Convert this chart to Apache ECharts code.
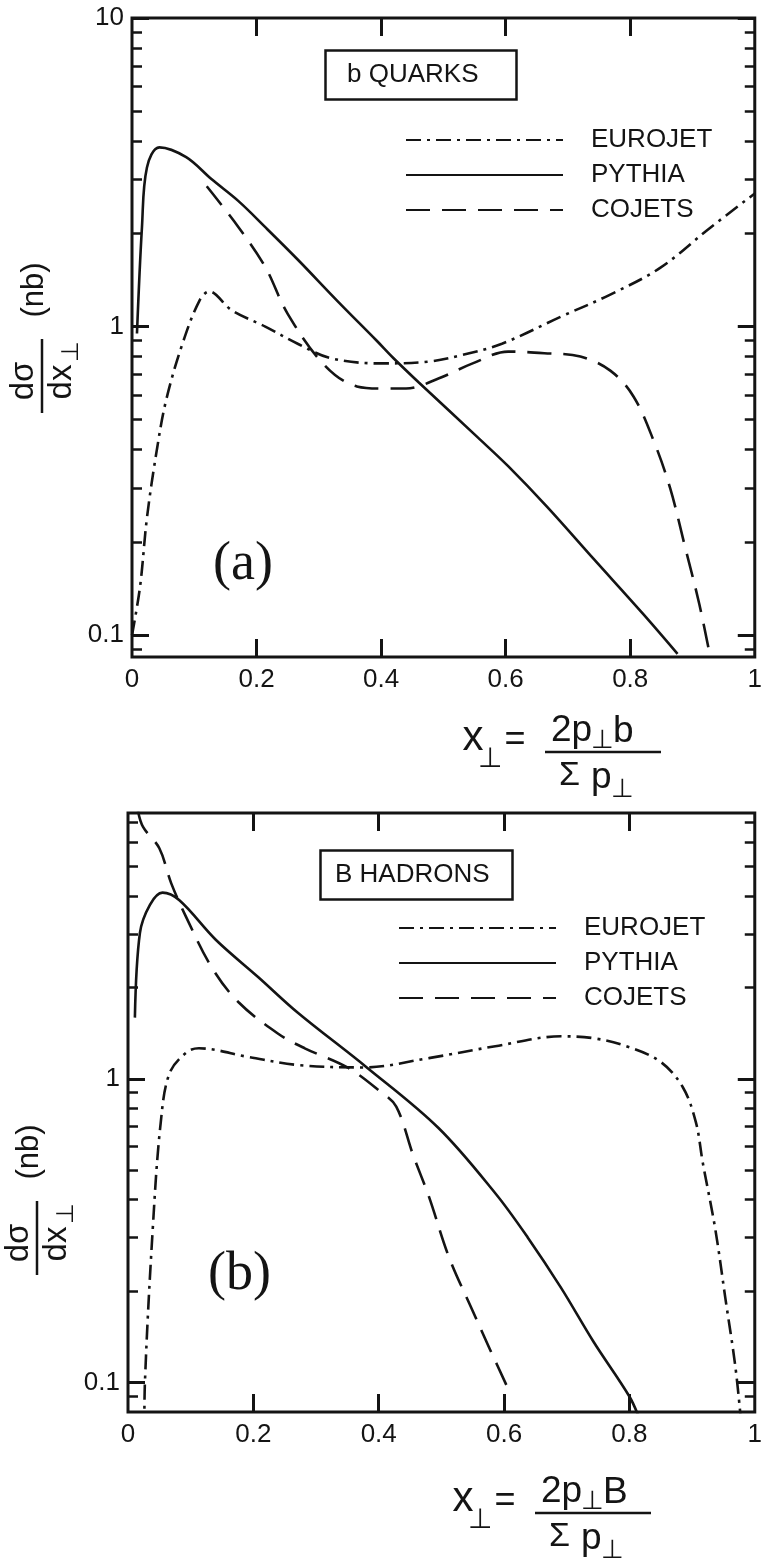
<!DOCTYPE html>
<html>
<head>
<meta charset="utf-8">
<script src="https://cdn.jsdelivr.net/npm/echarts@6/dist/echarts.min.js"></script>
<style>
  html, body { margin: 0; padding: 0; background: #fff; }
  #chart { width: 765px; height: 1563px; }
</style>
</head>
<body>
<div id="chart"></div>
<script>
// axis ticks / labels
const xTickLabels = [0, 0.2, 0.4, 0.6, 0.8, 1];
const xInnerTicks = [0.2, 0.4, 0.6, 0.8];
const yMajorTicks = [0.1, 1, 10];
const yMinorTicks = [0.09, 0.2, 0.3, 0.4, 0.5, 0.6, 0.7, 0.8, 0.9, 2, 3, 4, 5, 6, 7, 8, 9];
const seriesNames = ['EUROJET', 'PYTHIA', 'COJETS'];

// (a) b quarks  [x_perp, dsigma/dx]
const quarkEurojet = [[0.0, 0.1], [0.013, 0.144], [0.024, 0.24], [0.04, 0.40], [0.055, 0.58], [0.081, 0.88],
  [0.108, 1.21], [0.124, 1.30], [0.16, 1.13], [0.214, 1.0], [0.266, 0.88], [0.319, 0.79], [0.398, 0.76],
  [0.477, 0.77], [0.531, 0.81], [0.594, 0.88], [0.69, 1.08], [0.768, 1.27], [0.848, 1.55], [0.927, 2.08], [1.0, 2.7]];
const quarkPythia = [[0.008, 0.95], [0.016, 2.1], [0.024, 3.28], [0.044, 3.81], [0.087, 3.54], [0.128, 3.0],
  [0.171, 2.55], [0.214, 2.1], [0.266, 1.65], [0.33, 1.21], [0.393, 0.9], [0.42, 0.79], [0.461, 0.658],
  [0.556, 0.436], [0.604, 0.353], [0.667, 0.26], [0.742, 0.176], [0.821, 0.117], [0.876, 0.087]];
const quarkCojets = [[0.12, 2.85], [0.171, 2.1], [0.214, 1.56], [0.25, 1.1], [0.309, 0.75], [0.361, 0.64],
  [0.404, 0.63], [0.44, 0.63], [0.493, 0.68], [0.547, 0.76], [0.604, 0.83], [0.662, 0.82], [0.72, 0.8],
  [0.768, 0.72], [0.805, 0.595], [0.837, 0.43], [0.864, 0.30], [0.889, 0.19], [0.911, 0.126], [0.929, 0.084]];

// (b) B hadrons
const hadronEurojet = [[0.026, 0.07], [0.027, 0.1], [0.04, 0.334], [0.052, 0.71], [0.066, 1.04], [0.093, 1.22],
  [0.113, 1.26], [0.192, 1.18], [0.271, 1.11], [0.376, 1.09], [0.48, 1.17], [0.586, 1.28], [0.691, 1.38],
  [0.743, 1.36], [0.795, 1.28], [0.849, 1.14], [0.885, 0.94], [0.906, 0.72], [0.917, 0.53], [0.937, 0.32],
  [0.953, 0.19], [0.969, 0.113], [0.978, 0.075]];
const hadronPythia = [[0.011, 1.59], [0.019, 3.02], [0.035, 3.74], [0.055, 4.1], [0.082, 3.87], [0.14, 2.87],
  [0.208, 2.16], [0.271, 1.65], [0.381, 1.09], [0.495, 0.69], [0.586, 0.42], [0.638, 0.30], [0.691, 0.205],
  [0.743, 0.136], [0.80, 0.09], [0.815, 0.077]];
const hadronCojets = [[0.016, 7.6], [0.024, 6.75], [0.05, 5.74], [0.069, 4.4], [0.093, 3.4], [0.134, 2.32],
  [0.176, 1.79], [0.239, 1.41], [0.282, 1.26], [0.35, 1.09], [0.402, 0.91], [0.428, 0.81], [0.455, 0.56],
  [0.48, 0.41], [0.512, 0.259], [0.55, 0.172], [0.575, 0.132], [0.609, 0.093]];

const ink = '#141414';
const sans = 'Liberation Sans, Arial, Helvetica, sans-serif';
const serif = 'Liberation Serif, Times New Roman, serif';
const dashes = { EUROJET: [15, 6, 3, 6], PYTHIA: 'solid', COJETS: [24, 12] };

const chart = echarts.init(document.getElementById('chart'));

function xAxes(grid) {
  const tick = { inside: true, length: 18, customValues: xInnerTicks, lineStyle: { color: ink, width: 3 } };
  return [
    {
      type: 'value', gridIndex: grid, position: 'bottom', min: 0, max: 1,
      splitLine: { show: false }, axisLine: { show: false }, axisTick: tick,
      axisLabel: {
        customValues: xTickLabels, fontSize: 26, color: ink, fontFamily: sans, margin: 10,
        formatter: v => (v === 0 || v === 1) ? String(v) : v.toFixed(1)
      }
    },
    {
      type: 'value', gridIndex: grid, position: 'top', min: 0, max: 1,
      splitLine: { show: false }, axisLine: { show: false }, axisTick: tick, axisLabel: { show: false }
    }
  ];
}

function yAxes(grid, min, max) {
  const base = { type: 'log', gridIndex: grid, min: min, max: max, splitLine: { show: false },
    axisLine: { show: false }, axisLabel: { show: false } };
  const major = { inside: true, length: 17, customValues: yMajorTicks, lineStyle: { color: ink, width: 3 } };
  const minor = { inside: true, length: 10, customValues: yMinorTicks, lineStyle: { color: ink, width: 2.5 } };
  return [
    Object.assign({}, base, { position: 'left', axisTick: major,
      axisLabel: { customValues: yMajorTicks, fontSize: 26, color: ink, fontFamily: sans, margin: 8,
        formatter: v => v < 1 ? '0.1' : String(Math.round(v)) } }),
    Object.assign({}, base, { position: 'left', axisTick: minor }),
    Object.assign({}, base, { position: 'right', axisTick: major }),
    Object.assign({}, base, { position: 'right', axisTick: minor })
  ];
}

function line(name, data, xi, yi) {
  return {
    name: name, type: 'line', data: data, xAxisIndex: xi, yAxisIndex: yi,
    symbol: 'none', smooth: 0.35, animation: false,
    itemStyle: { color: ink },
    lineStyle: { color: ink, width: 2.6, type: dashes[name] }
  };
}

function legend(left, top) {
  return {
    data: seriesNames, orient: 'vertical', left: left, top: top, padding: 0,
    itemWidth: 157, itemHeight: 14, itemGap: 9, selectedMode: false,
    itemStyle: { opacity: 0 },
    textStyle: { fontSize: 26, color: ink, fontFamily: sans, padding: [0, 0, 0, 23] }
  };
}

function boxTitle(text, left, top, padding) {
  return {
    text: text, left: left, top: top, padding: padding,
    borderColor: ink, borderWidth: 2.5,
    textStyle: { fontSize: 26, fontWeight: 'normal', color: ink, fontFamily: sans }
  };
}

function txt(x, y, s, size, align, vAlign) {
  return { type: 'text', x: x, y: y,
    style: { text: s, fontSize: size, fontFamily: sans, fill: ink, align: align || 'center', verticalAlign: vAlign || 'middle' } };
}

// rotated y-axis title: dσ/dx⊥ (nb)
function yTitle(x, y) {
  return {
    type: 'group', x: x, y: y, rotation: Math.PI / 2,
    children: [
      { type: 'line', shape: { x1: -37, y1: 0, x2: 37, y2: 0 }, style: { stroke: ink, lineWidth: 2.5 } },
      txt(-5, -2, 'dσ', 33, 'center', 'bottom'),
      txt(-6, 3, 'dx', 33, 'center', 'top'),
      txt(14, 17, '⊥', 24, 'left', 'top'),
      txt(86, -8, '(nb)', 31)
    ]
  };
}

// x-axis formula: x⊥ = 2p⊥q / Σp⊥
function xFormula(barLeft, barY, q) {
  return {
    type: 'group', x: barLeft, y: barY,
    children: [
      txt(-72, -14, 'x', 42),
      txt(-55, 7, '⊥', 28),
      txt(-30, -12, '=', 36),
      txt(6, -21, '2p', 37, 'left', 'middle'),
      txt(46, -11, '⊥', 26, 'left', 'middle'),
      txt(68, -20, q, 37, 'left', 'middle'),
      { type: 'line', shape: { x1: 0, y1: 0, x2: 116, y2: 0 }, style: { stroke: ink, lineWidth: 2.5 } },
      txt(14, 24, 'Σ', 34, 'left', 'middle'),
      txt(46, 26, 'p', 37, 'left', 'middle'),
      txt(66, 38, '⊥', 26, 'left', 'middle')
    ]
  };
}

const option = {
  backgroundColor: '#fff',
  animation: false,
  title: [
    boxTitle('b QUARKS', 325, 50, [12, 38, 12, 22]),
    boxTitle('B HADRONS', 320, 850, [12, 23, 12, 15]),
    { text: '(a)', left: 213, top: 538, padding: 0, textStyle: { fontSize: 54, fontWeight: 'normal', color: ink, fontFamily: serif } },
    { text: '(b)', left: 208, top: 1248, padding: 0, textStyle: { fontSize: 54, fontWeight: 'normal', color: ink, fontFamily: serif } }
  ],
  legend: [legend(405, 127), legend(398, 915)],
  grid: [
    { left: 132, top: 18, width: 631, height: 639, show: true, borderColor: ink, borderWidth: 3, backgroundColor: 'transparent', containLabel: false },
    { left: 128, top: 813, width: 635, height: 599, show: true, borderColor: ink, borderWidth: 3, backgroundColor: 'transparent', containLabel: false }
  ],
  xAxis: xAxes(0).concat(xAxes(1)),
  yAxis: yAxes(0, 0.085, 10).concat(yAxes(1, 0.08, 7.5)),
  series: [
    line('EUROJET', quarkEurojet, 0, 0),
    line('PYTHIA', quarkPythia, 0, 0),
    line('COJETS', quarkCojets, 0, 0),
    line('EUROJET', hadronEurojet, 2, 4),
    line('PYTHIA', hadronPythia, 2, 4),
    line('COJETS', hadronCojets, 2, 4)
  ],
  graphic: [
    yTitle(42, 376),
    yTitle(37, 1238),
    xFormula(545, 752, 'b'),
    xFormula(535, 1513, 'B')
  ]
};

chart.setOption(option);
</script>
</body>
</html>
